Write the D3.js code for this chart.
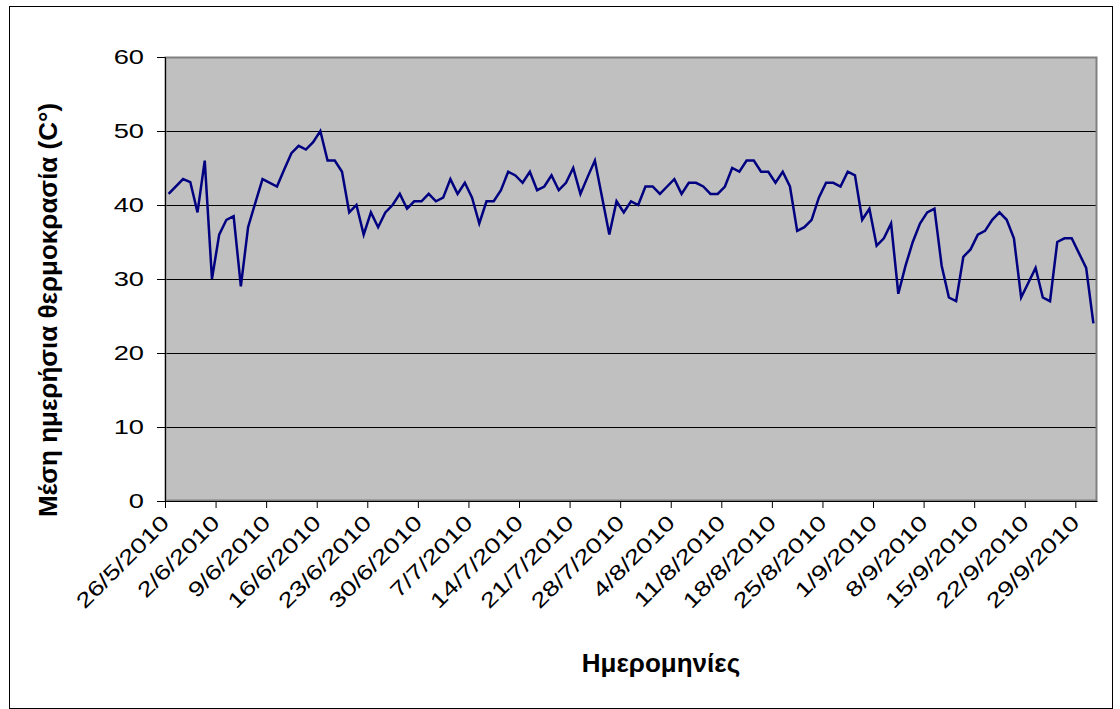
<!DOCTYPE html>
<html>
<head>
<meta charset="utf-8">
<script src="https://cdn.jsdelivr.net/npm/d3@7"></script>
<style>
  body { margin: 0; background: #fff; }
  svg text { font-family: Arial, "Liberation Sans", sans-serif; }
</style>
</head>
<body>
<div id="chart"></div>
<script>
// daily mean temperature, one value per day starting 26/5/2010 (null = no reading)
var startDay = "2010-05-26";
var endDay = "2010-10-02";
var temps = [
  41.5, null, 43.5, 43.1, 39, 46, 30, 36, 38, 38.5,
  29, 37, 40.3, 43.5, null, 42.5, 44.8, 47, 48, 47.5,
  48.5, 50, 46, 46, 44.5, 39, 40, 36, 39, 37,
  39, 40, 41.5, 39.5, 40.5, 40.5, 41.5, 40.5, 41, 43.5,
  41.5, 43, 41, 37.5, 40.5, 40.5, 42, 44.5, 44, 43,
  44.5, 42, 42.5, 44, 42, 43, 45, 41.5, 43.8, 46,
  41, 36, 40.5, 39, 40.5, 40, 42.5, 42.5, 41.5, 42.5,
  43.5, 41.5, 43, 43, 42.5, 41.5, 41.5, 42.5, 45, 44.5,
  46, 46, 44.5, 44.5, 43, 44.5, 42.5, 36.5, 37, 38,
  41, 43, 43, 42.5, 44.5, 44, 38, 39.5, 34.5, 35.5,
  37.5, 28, 31.8, 35, 37.5, 39, 39.5, 31.8, 27.5, 27,
  33, 34, 36, 36.5, 38, 39, 38, 35.5, 27.5, 29.5,
  31.5, 27.5, 27, 35, 35.5, 35.5, 33.5, 31.5, 24
];
var yTicks = [0, 10, 20, 30, 40, 50, 60];
var yTitle = "Μέση ημερήσια θερμοκρασία (C°)";
var xTitle = "Ημερομηνίες";

var width = 1120, height = 709;
var plot = { left: 165, right: 1097, top: 57, bottom: 501 };
var wide = 1.3; // tick labels in the source are drawn wider than normal

var parse = d3.utcParse("%Y-%m-%d");
var t0 = parse(startDay), t1 = parse(endDay);

var data = temps
  .map(function (v, i) {
    // each point sits in the middle of its day
    return { date: d3.utcHour.offset(d3.utcDay.offset(t0, i), 12), value: v };
  })
  .filter(function (d) { return d.value != null; });

var svg = d3.select("#chart").append("svg")
  .attr("width", width)
  .attr("height", height);

// outer frame
svg.append("rect")
  .attr("x", 9.5).attr("y", 6.5)
  .attr("width", 1103).attr("height", 702)
  .attr("fill", "#fff")
  .attr("stroke", "#000")
  .attr("stroke-width", 1);

var x = d3.scaleUtc().domain([t0, t1]).range([plot.left, plot.right]);
var y = d3.scaleLinear().domain([0, 60]).range([plot.bottom, plot.top]);

// plot area
svg.append("rect")
  .attr("x", plot.left).attr("y", plot.top)
  .attr("width", plot.right - plot.left)
  .attr("height", plot.bottom - plot.top)
  .attr("fill", "#c0c0c0");

// gridlines
svg.append("g")
  .selectAll("line")
  .data(yTicks.filter(function (d) { return d > 0 && d < 60; }))
  .join("line")
  .attr("x1", plot.left).attr("x2", plot.right)
  .attr("y1", function (d) { return Math.round(y(d)) + 0.5; })
  .attr("y2", function (d) { return Math.round(y(d)) + 0.5; })
  .attr("stroke", "#000")
  .attr("stroke-width", 1);

// plot border (gray)
svg.append("rect")
  .attr("x", plot.left + 0.5).attr("y", plot.top + 0.5)
  .attr("width", plot.right - plot.left - 1)
  .attr("height", plot.bottom - plot.top - 1)
  .attr("fill", "none")
  .attr("stroke", "#808080")
  .attr("stroke-width", 2);

// y axis
var yAxis = d3.axisLeft(y).tickValues(yTicks).tickSize(8);
var gy = svg.append("g")
  .attr("transform", "translate(" + plot.left + ",0)")
  .call(yAxis);
gy.select(".domain").attr("stroke", "#000").attr("stroke-width", 1);
gy.selectAll(".tick line").attr("stroke", "#000");
gy.selectAll(".tick text")
  .attr("x", 0)
  .attr("font-size", 21)
  .attr("fill", "#000")
  .attr("transform", "translate(-21,0) scale(" + wide + ",1)");

// x axis: weekly ticks
var xTicks = d3.utcDay.range(t0, d3.utcDay.offset(t1, -2), 7);
var xAxis = d3.axisBottom(x)
  .tickValues(xTicks)
  .tickFormat(d3.utcFormat("%-d/%-m/%Y"))
  .tickSize(7)
  .tickSizeOuter(0);
var gx = svg.append("g")
  .attr("transform", "translate(0," + plot.bottom + ")")
  .call(xAxis);
gx.select(".domain").attr("stroke", "#000");
gx.selectAll(".tick line").attr("stroke", "#000");
gx.selectAll(".tick text")
  .attr("font-size", 21)
  .attr("fill", "#000")
  .attr("text-anchor", "end")
  .attr("y", 0)
  .attr("dy", 0)
  .attr("transform", "translate(5,23) rotate(-45) scale(" + wide + ",1)");

// temperature line
var line = d3.line()
  .x(function (d) { return x(d.date); })
  .y(function (d) { return y(d.value); });

svg.append("path")
  .datum(data)
  .attr("d", line)
  .attr("fill", "none")
  .attr("stroke", "#000080")
  .attr("stroke-width", 2.5)
  .attr("stroke-linejoin", "miter");

// titles
svg.append("text")
  .attr("transform", "translate(57,310) rotate(-90)")
  .attr("text-anchor", "middle")
  .attr("font-size", 26)
  .attr("font-weight", "bold")
  .text(yTitle);

svg.append("text")
  .attr("x", 661)
  .attr("y", 672)
  .attr("text-anchor", "middle")
  .attr("font-size", 26)
  .attr("font-weight", "bold")
  .text(xTitle);
</script>
</body>
</html>
